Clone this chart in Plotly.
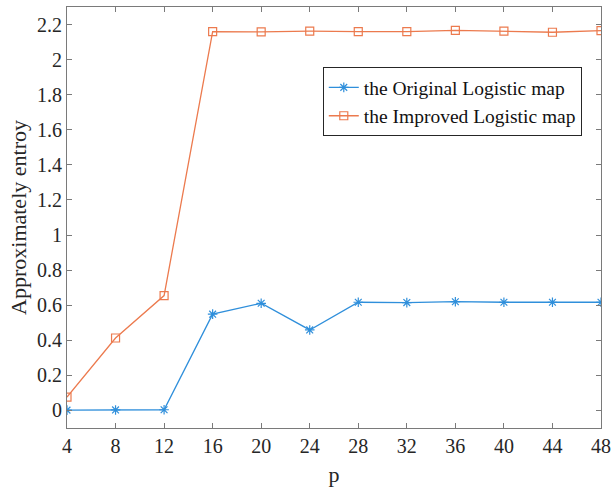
import plotly.graph_objects as go

p_values = [4, 8, 12, 16, 20, 24, 28, 32, 36, 40, 44, 48]
original_logistic = [0.002, 0.003, 0.004, 0.549, 0.611, 0.459, 0.617, 0.615, 0.620, 0.617, 0.617, 0.617]
improved_logistic = [0.076, 0.413, 0.655, 2.160, 2.158, 2.162, 2.160, 2.160, 2.167, 2.163, 2.156, 2.165]
y_ticks = [0, 0.2, 0.4, 0.6, 0.8, 1, 1.2, 1.4, 1.6, 1.8, 2, 2.2]
y_tick_labels = ["0", "0.2", "0.4", "0.6", "0.8", "1", "1.2", "1.4", "1.6", "1.8", "2", "2.2"]

FONT = "Liberation Serif, Times New Roman, serif"
blue = "#2F8FDB"
orange = "#EC7A4E"

fig = go.Figure()
fig.add_trace(go.Scatter(
    x=p_values, y=original_logistic, mode="lines+markers",
    name="the Original Logistic map",
    line=dict(color=blue, width=1.3),
    marker=dict(symbol="asterisk-open", size=8, color=blue, line=dict(color=blue, width=1.2)),
))
fig.add_trace(go.Scatter(
    x=p_values, y=improved_logistic, mode="lines+markers",
    name="the Improved Logistic map",
    line=dict(color=orange, width=1.3),
    marker=dict(symbol="square-open", size=8, color=orange, line=dict(color=orange, width=1.2)),
))

axis_color = "#7a7a7a"
fig.update_layout(
    width=613, height=487,
    margin=dict(l=67, r=12, t=7, b=59, autoexpand=False),
    paper_bgcolor="white", plot_bgcolor="white",
    font=dict(family=FONT, size=20, color="#262626"),
    legend=dict(
        x=0.479, y=0.857, xanchor="left", yanchor="top",
        bgcolor="white", bordercolor="#262626", borderwidth=1,
        font=dict(family=FONT, size=19.5, color="#111111"),
        tracegroupgap=0, itemwidth=30,
    ),
    showlegend=True,
)
fig.update_xaxes(
    range=[4, 48], tickvals=p_values, ticktext=[str(v) for v in p_values],
    ticks="inside", ticklen=5, tickcolor=axis_color,
    showline=True, linecolor=axis_color, linewidth=1, mirror="ticks",
    showgrid=False, zeroline=False, automargin=False,
    title=dict(text="p", font=dict(family=FONT, size=22, color="#262626"), standoff=10),
    tickfont=dict(family=FONT, size=20, color="#262626"),
)
fig.update_yaxes(
    range=[-0.1, 2.3], tickvals=y_ticks, ticktext=y_tick_labels,
    ticks="inside", ticklen=5, tickcolor=axis_color,
    showline=True, linecolor=axis_color, linewidth=1, mirror="ticks",
    showgrid=False, zeroline=False, automargin=False,
    title=dict(text="Approximately entroy", font=dict(family=FONT, size=22, color="#262626"), standoff=4),
    tickfont=dict(family=FONT, size=20, color="#262626"),
)

fig.write_html(
    "out.html",
    config={"displayModeBar": False},
    post_script="document.body.style.margin='0';document.body.style.overflow='hidden';",
)
